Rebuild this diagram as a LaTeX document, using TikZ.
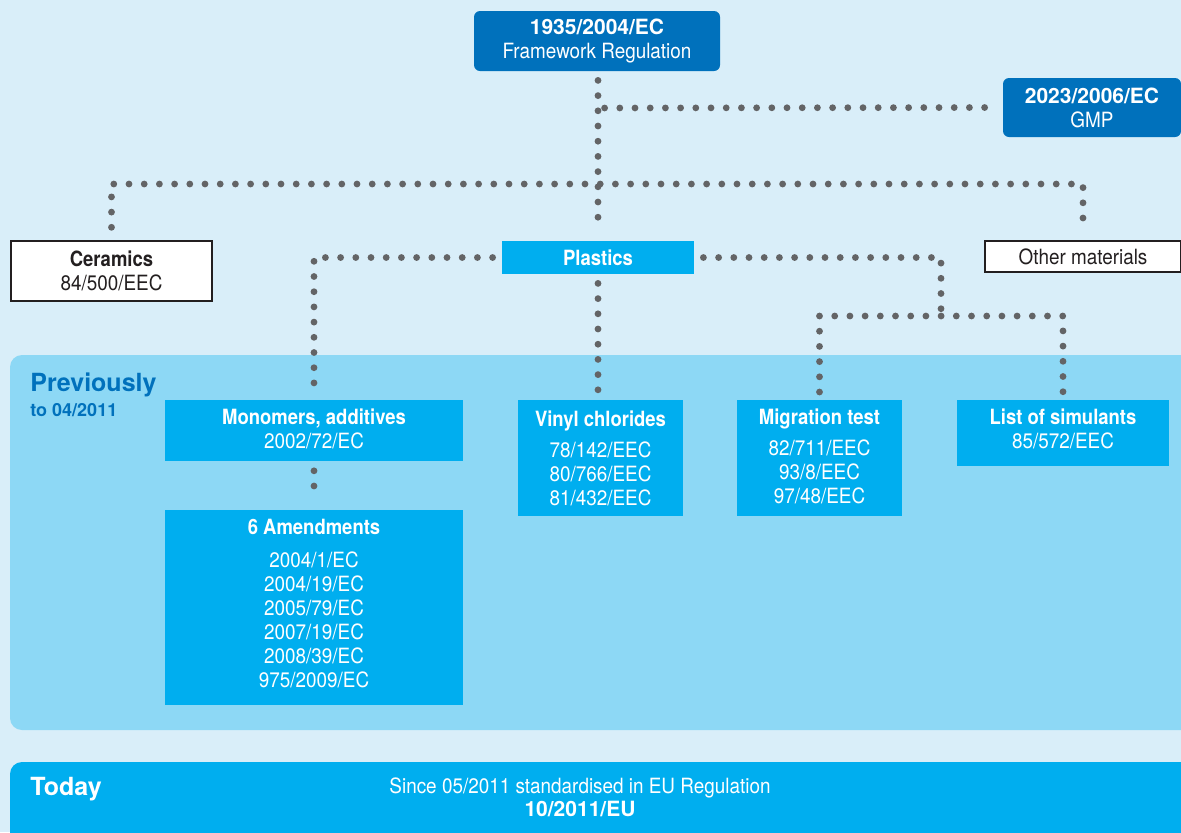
\documentclass[tikz,border=0pt]{standalone}
\usepackage{fontspec}
\setmainfont{TeX Gyre Heros}[FakeStretch=0.9, BoldFeatures={FakeStretch=0.88}]
\newfontfamily\widefont{TeX Gyre Heros}
\usepackage{tikz}
\usetikzlibrary{calc}
\usepackage{xcolor}
\definecolor{bgblue}{HTML}{D9EEF9}
\definecolor{darkblue}{HTML}{0071BC}
\definecolor{cyanbox}{HTML}{00AEEF}
\definecolor{paleblue}{HTML}{8DD8F5}
\definecolor{dotgray}{HTML}{636466}
\definecolor{inkgray}{HTML}{231F20}
\newcommand{\widebf}[1]{{\widefont\bfseries #1}}

\begin{document}
\begin{tikzpicture}[x=0.5pt, y=-0.5pt,
    dots/.style={dotgray, line width=3.4pt, line cap=round, dash pattern=on 0pt off 7.6pt},
    regbox/.style={fill=darkblue, text=white, rounded corners=3pt, align=center, inner sep=0pt,
        font=\fontsize{10.5}{12}\selectfont},
    matbox/.style={fill=white, draw=inkgray, line width=0.7pt, text=inkgray, align=center, inner sep=0pt,
        font=\fontsize{10.5}{12}\selectfont},
    dirbox/.style={fill=cyanbox, text=white, align=center, inner sep=0pt, anchor=north,
        font=\fontsize{10.5}{12}\selectfont},
    biglbl/.style={anchor=west, inner sep=0pt, font=\fontsize{12.5}{14}\selectfont\widefont\bfseries}]

    \useasboundingbox (0,0) rectangle (1181,832);
    \fill[bgblue] (0,0) rectangle (1181,832);
    \fill[paleblue, rounded corners=6pt] (10,355) rectangle (1195,730);
    \fill[cyanbox, rounded corners=6pt] (10,762) rectangle (1195,850);

    \node[regbox, minimum width=123pt, minimum height=30pt] (fw) at (597,41)
        {\widebf{1935/2004/EC}\\Framework Regulation};
    \node[regbox, minimum width=89pt, minimum height=29.5pt] (gmp) at (1092,107.5)
        {\widebf{2023/2006/EC}\\GMP};

    \node[matbox, minimum width=100.5pt, minimum height=30pt] (cer) at (111.5,271)
        {\textbf{Ceramics}\\84/500/EEC};
    \node[matbox, minimum width=98pt, minimum height=15.5pt] (oth) at (1083,256.5)
        {Other materials};
    \node[fill=cyanbox, text=white, inner sep=0pt, minimum width=96pt, minimum height=16.5pt,
        font=\fontsize{10.5}{12}\selectfont\bfseries] (plas) at (598,257.5) {Plastics};

    \node[biglbl, text=darkblue] (prev) at (30,385) {Previously};
    \node[anchor=west, inner sep=0pt, text=darkblue, font=\fontsize{9}{10}\selectfont\widefont\bfseries]
        (prevdate) at (30,410) {to 04/2011};

    \node[dirbox, minimum width=149pt, text height=24pt, text depth=6.5pt] (mono) at (314,400)
        {\textbf{Monomers, additives}\\2002/72/EC};
    \node[dirbox, minimum width=149pt, text height=88.75pt, text depth=8.75pt] (amend) at (314,510)
        {\textbf{6 Amendments}\\[4.5pt]2004/1/EC\\2004/19/EC\\2005/79/EC\\2007/19/EC\\2008/39/EC\\975/2009/EC};
    \node[dirbox, minimum width=82.5pt, text height=52.75pt, text depth=5.25pt] (vinyl) at (600.5,400)
        {\textbf{Vinyl chlorides}\\[3.5pt]78/142/EEC\\80/766/EEC\\81/432/EEC};
    \node[dirbox, minimum width=82.5pt, text height=51.75pt, text depth=6.25pt] (migr) at (819.5,400)
        {\textbf{Migration test}\\[3.5pt]82/711/EEC\\93/8/EEC\\97/48/EEC};
    \node[dirbox, minimum width=106pt, text height=24.25pt, text depth=8.75pt] (sim) at (1063,400)
        {\textbf{List of simulants}\\85/572/EEC};

    \node[biglbl, text=white] (today) at (30,789) {Today};
    \node[align=center, text=white, inner sep=0pt, font=\fontsize{10.5}{11.5}\selectfont] (reg) at (580,797.5)
        {Since 05/2011 standardised in EU Regulation\\\widebf{10/2011/EU}};

    \coordinate (gmpj) at (598,108);
    \coordinate (matj) at (598,184);
    \coordinate (migj) at (941,316);

    \draw[dots] ([yshift=-4.5pt]fw.south -| plas.north) -- ([yshift=4.5pt]plas.north);
    \draw[dots] ([xshift=-9pt]gmp.west) -- (gmpj);
    \draw[dots] ([yshift=6.5pt]cer.north) |- (matj) -| ([yshift=6.5pt]oth.north);
    \draw[dots] ([xshift=-4.5pt]plas.west) -| ([yshift=4pt]mono.north);
    \draw[dots] ([yshift=-4.5pt]mono.south) -- ([yshift=4.5pt]amend.north);
    \draw[dots] ([yshift=-4.5pt]plas.south) -- ([yshift=4pt]plas.south |- vinyl.north);
    \draw[dots] ([xshift=4.5pt]plas.east) -| (migj);
    \draw[dots] ([yshift=4pt]migr.north) |- (migj) -| ([yshift=4pt]sim.north);
\end{tikzpicture}
\end{document}
